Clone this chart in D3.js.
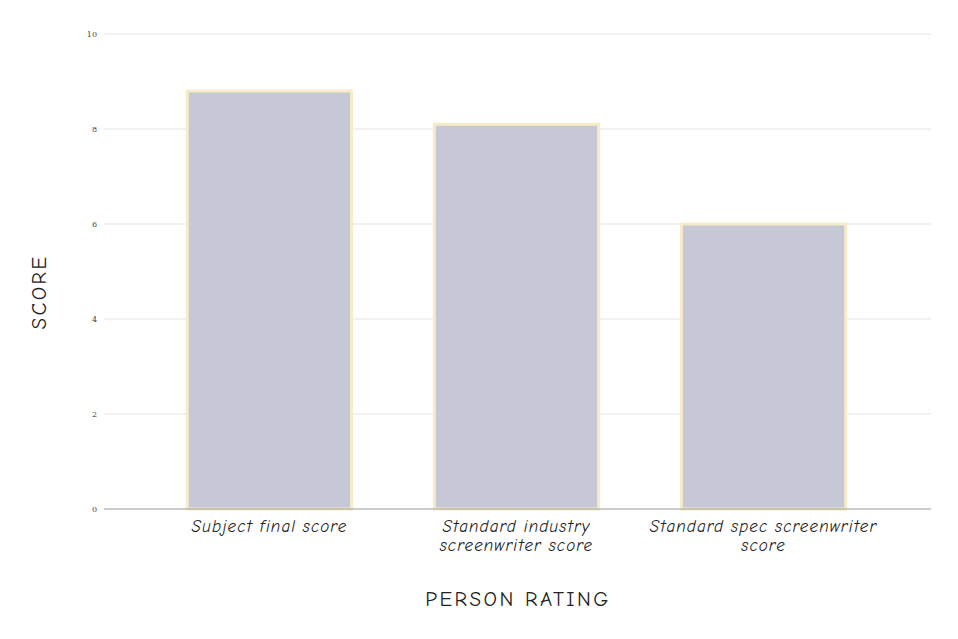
<!DOCTYPE html>
<html><head><meta charset="utf-8">
<script src="https://cdn.jsdelivr.net/npm/d3@7"></script>
<style>body{margin:0;background:#fff}</style>
</head><body>
<svg id="c" width="958" height="639"></svg>
<script>
const categories = [["Subject final score"], ["Standard industry", "screenwriter score"], ["Standard spec screenwriter", "score"]];
const values = [8.8, 8.1, 6.0];
const yTicks = [0, 2, 4, 6, 8, 10];

const svg = d3.select("#c");
const font = "'Comic Sans MS','Comic Neue','DejaVu Sans',sans-serif";
const y = d3.scaleLinear().domain([0, 10]).range([509, 34]);
const x = d3.scaleBand().domain(d3.range(values.length)).range([146, 887]).paddingInner(0.335).paddingOuter(0.167);

const g = svg.append("g");
g.selectAll("line.grid").data(yTicks.filter(d => d !== 0)).enter().append("line")
  .attr("x1", 104).attr("x2", 931).attr("y1", d => y(d)).attr("y2", d => y(d))
  .attr("stroke", "#e3e3e3").attr("stroke-width", 1);
g.selectAll("text.tick").data(yTicks).enter().append("text")
  .attr("x", 97).attr("y", d => y(d)).attr("dy", "0.35em").attr("text-anchor", "end")
  .attr("font-family", "'DejaVu Serif',serif").attr("font-size", 8).attr("fill", "#444").text(d => d);

g.selectAll("rect.bar").data(values).enter().append("rect")
  .attr("x", (d, i) => x(i)).attr("width", x.bandwidth())
  .attr("y", d => y(d)).attr("height", d => y(0) - y(d))
  .attr("fill", "#c6c8d5").attr("stroke", "#f6ecc9").attr("stroke-width", 3);

g.append("line").attr("x1", 104).attr("x2", 931).attr("y1", y(0)).attr("y2", y(0))
  .attr("stroke", "#9a9a9a").attr("stroke-width", 1.2);

categories.forEach((lines, i) => {
  lines.forEach((l, j) => g.append("text").attr("text-anchor", "middle")
    .attr("font-family", font).attr("font-style", "italic").attr("font-size", 17)
    .attr("letter-spacing", 1.1).attr("fill", "#222")
    .attr("x", x(i) + x.bandwidth() / 2).attr("y", 532 + j * 19).text(l));
});

svg.append("text").attr("x", 518).attr("y", 606).attr("text-anchor", "middle")
  .attr("font-family", font).attr("font-size", 21).attr("letter-spacing", 2.4).attr("fill", "#222").text("PERSON RATING");
svg.append("text").attr("transform", "translate(46,292) rotate(-90)").attr("text-anchor", "middle")
  .attr("font-family", font).attr("font-size", 21).attr("letter-spacing", 2.4).attr("fill", "#222").text("SCORE");
</script>
</body></html>
